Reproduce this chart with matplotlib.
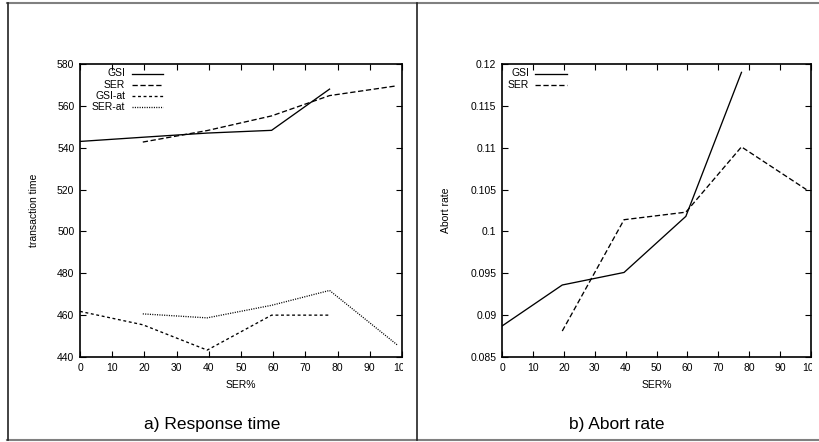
import matplotlib
matplotlib.use("Agg")
import matplotlib.pyplot as plt
from matplotlib.lines import Line2D
from matplotlib.transforms import Bbox

plt.rcParams['font.family'] = ['Liberation Sans', 'DejaVu Sans']

# response time panel
ser_pct = [0, 19.5, 39.5, 59.5, 77.5, 98.5]
gsi_time = [543, 545, 547, 548.3, 568]
ser_time = [542.7, 548.2, 555.2, 564.9, 569.6]
gsi_at_time = [461.8, 455.4, 443.3, 460, 460]
ser_at_time = [460.6, 458.7, 464.7, 471.8, 445.8]

# abort rate panel
gsi_abort = [0.0887, 0.0936, 0.0951, 0.1018, 0.1190]
ser_abort = [0.0881, 0.1014, 0.1023, 0.1101, 0.1050]

W, H = 819, 442
fig = plt.figure(figsize=(W / 100, H / 100), dpi=100)

def px_axes(x0, x1, ytop, ybot):
    return fig.add_axes([x0 / W, (H - ybot) / H, (x1 - x0) / W, (ybot - ytop) / H])

ax1 = px_axes(80, 402, 64, 357)
ax2 = px_axes(502, 811, 64, 357)

styles = {
    'GSI': dict(ls='-'),
    'SER': dict(ls=(0, (4, 2))),
    'GSI-at': dict(ls=(0, (2.2, 2))),
    'SER-at': dict(ls=(0, (0.8, 1.0))),
}

def series(ax, x, y, name):
    ax.plot(x, y, color='black', lw=0.95, **styles[name])

series(ax1, ser_pct[:5], gsi_time, 'GSI')
series(ax1, ser_pct[1:], ser_time, 'SER')
series(ax1, ser_pct[:5], gsi_at_time, 'GSI-at')
series(ax1, ser_pct[1:], ser_at_time, 'SER-at')

series(ax2, ser_pct[:5], gsi_abort, 'GSI')
series(ax2, ser_pct[1:], ser_abort, 'SER')

def gnuplot_legend(ax, names, x_text, x0, x1, y_first, dy):
    for i, n in enumerate(names):
        y = y_first - i * dy
        ax.text(x_text, y, n, transform=ax.transAxes, ha='right', va='center', fontsize=7.5)
        ax.add_line(Line2D([x0, x1], [y, y], transform=ax.transAxes, color='black', lw=0.95, **styles[n]))

# positions in axes fraction
gnuplot_legend(ax1, ['GSI', 'SER', 'GSI-at', 'SER-at'],
               (125 - 80) / 322, (132 - 80) / 322, (163 - 80) / 322,
               1 - (73.5 - 64) / 293, 11.3 / 293)
gnuplot_legend(ax2, ['GSI', 'SER'],
               (529 - 502) / 309, (535 - 502) / 309, (567 - 502) / 309,
               1 - (73.5 - 64) / 293, 11.3 / 293)

ax1.set_ylim(440, 580)
ax1.set_yticks(range(440, 581, 20))
ax2.set_ylim(0.085, 0.12)
ax2.set_yticks([0.085, 0.09, 0.095, 0.1, 0.105, 0.11, 0.115, 0.12])
ax2.set_yticklabels(['0.085', '0.09', '0.095', '0.1', '0.105', '0.11', '0.115', '0.12'])

for ax, clip_x in ((ax1, 403), (ax2, 812)):
    ax.set_xlim(0, 100)
    ax.set_xticks(range(0, 101, 10))
    ax.tick_params(direction='in', length=4, width=0.8, top=True, right=True,
                   labelsize=7.5, pad=4)
    for s in ax.spines.values():
        s.set_linewidth(1.2)
    ax.set_xlabel('SER%', fontsize=7.5, labelpad=5)
    lab = ax.get_xticklabels()[-1]
    lab.set_clip_on(True)
    lab.set_clip_box(Bbox.from_extents(0, 0, clip_x, H))

ax1.set_ylabel('transaction time', fontsize=7.5, labelpad=13)
ax2.set_ylabel('Abort rate', fontsize=7.5, labelpad=14)

fig.text(212 / W, 1 - 424 / H, 'a) Response time', ha='center', va='center', fontsize=12.5)
fig.text(617 / W, 1 - 424 / H, 'b) Abort rate', ha='center', va='center', fontsize=12.5)

# frame around the two panels
def fline(xs, ys, c, lw):
    fig.add_artist(Line2D([x / W for x in xs], [1 - y / H for y in ys], color=c, lw=lw))

fline([7, W], [2.5, 2.5], '#808080', 1.5)
fline([7, W], [439.5, 439.5], '#808080', 1.5)
fline([7.5, 7.5], [2.5, 439.5], '#222222', 1.2)
fline([416.5, 416.5], [2.5, 439.5], '#222222', 1.2)

fig.savefig('out.png', dpi=100)
